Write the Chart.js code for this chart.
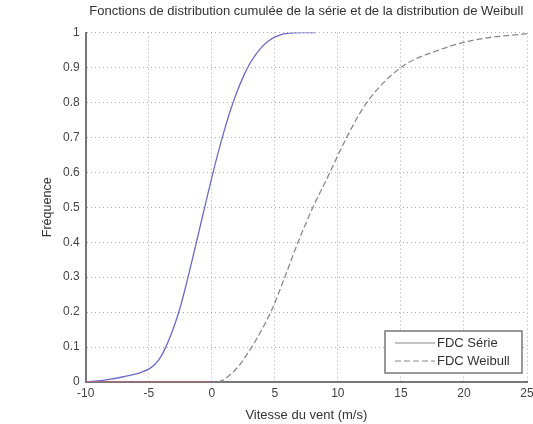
<!DOCTYPE html>
<html>
<head>
<meta charset="utf-8">
<script src="https://cdn.jsdelivr.net/npm/chart.js@4"></script>
<style>
html,body{margin:0;padding:0;background:#fff;}
#wrap{width:533px;height:424px;}
</style>
</head>
<body>
<div id="wrap"><canvas id="c" width="533" height="424"></canvas></div>
<script>
const serieX = [-10, -9, -8, -7, -6, -5.5, -5, -4.5, -4, -3.5, -3, -2.5, -2, -1.5, -1, -0.5, 0, 0.5, 1, 1.5, 2, 2.5, 3, 3.5, 4, 4.5, 5, 5.5, 6, 7, 8.2];
const serieY = [0, 0.003, 0.008, 0.015, 0.023, 0.029, 0.037, 0.051, 0.075, 0.112, 0.158, 0.214, 0.283, 0.357, 0.433, 0.51, 0.585, 0.656, 0.721, 0.78, 0.831, 0.874, 0.91, 0.938, 0.96, 0.976, 0.987, 0.994, 0.998, 1.0, 1.0];
const weibullX = [0.52, 1, 2, 2.63, 3.5, 4.73, 5.79, 6.84, 8.02, 9.2, 10.7, 12.3, 15, 18, 21, 25];
const weibullY = [0, 0.008, 0.04, 0.07, 0.12, 0.204, 0.30, 0.40, 0.50, 0.587, 0.7, 0.8, 0.9, 0.95, 0.98, 0.997];
const zeroX = [-10, 0];
const zeroY = [0, 0];
const seriesLabels = ["FDC Série", "FDC Weibull"];
const xTicks = [-10, -5, 0, 5, 10, 15, 20, 25];
const yTicks = [0, 0.1, 0.2, 0.3, 0.4, 0.5, 0.6, 0.7, 0.8, 0.9, 1];
const titleText = "Fonctions de distribution cumulée de la série et de la distribution de Weibull";
const xTitle = "Vitesse du vent (m/s)";
const yTitle = "Fréquence";

const FONT = '"Liberation Sans", Arial, sans-serif';
const pts = (xs, ys) => xs.map((x, i) => ({x: x, y: ys[i]}));

const legendPlugin = {
  id: 'boxLegend',
  afterDatasetsDraw(chart) {
    const ctx = chart.ctx, a = chart.chartArea;
    const w = 137, h = 42;
    const x0 = a.right - 142, y0 = a.bottom - 51;
    ctx.save();
    ctx.fillStyle = '#fff';
    ctx.fillRect(x0, y0, w, h);
    ctx.strokeStyle = '#777';
    ctx.lineWidth = 1.5;
    ctx.strokeRect(x0, y0, w, h);
    ctx.font = '13px ' + FONT;
    ctx.textBaseline = 'middle';
    ctx.fillStyle = '#333';
    for (let i = 0; i < 2; i++) {
      const ds = chart.data.datasets[i];
      const yy = y0 + 12 + i * 18;
      ctx.beginPath();
      ctx.setLineDash(ds.borderDash || []);
      ctx.strokeStyle = '#888';
      ctx.lineWidth = 1;
      ctx.moveTo(x0 + 10, yy);
      ctx.lineTo(x0 + 50, yy);
      ctx.stroke();
      ctx.setLineDash([]);
      ctx.fillText(seriesLabels[i], x0 + 52, yy);
    }
    ctx.restore();
  }
};

new Chart(document.getElementById('c'), {
  type: 'line',
  data: {
    datasets: [
      {label: seriesLabels[0], data: pts(serieX, serieY), borderColor: '#6b6bc8', borderWidth: 1.3, pointRadius: 0, cubicInterpolationMode: 'monotone', order: 2},
      {label: seriesLabels[1], data: pts(weibullX, weibullY), borderColor: '#8a8a8a', borderWidth: 1.3, borderDash: [6, 3], pointRadius: 0, cubicInterpolationMode: 'monotone', order: 3},
      {label: '', data: pts(zeroX, zeroY), borderColor: '#c0607a', borderWidth: 1.3, pointRadius: 0, order: 1}
    ]
  },
  options: {
    responsive: false,
    animation: false,
    layout: {padding: {left: 40, right: 6, top: 0, bottom: 1}},
    plugins: {
      legend: {display: false},
      tooltip: {enabled: false},
      title: {
        display: true, text: titleText, fullSize: false,
        color: '#333', font: {family: FONT, size: 13, weight: 'normal'},
        padding: {top: 4, bottom: 13}
      }
    },
    scales: {
      x: {
        type: 'linear', min: -10, max: 25,
        afterBuildTicks: s => { s.ticks = xTicks.map(v => ({value: v})); },
        afterFit: s => { s.paddingRight = 0; },
        ticks: {color: '#444', font: {family: FONT, size: 12}, padding: 4, maxRotation: 0},
        grid: {color: '#aaa', lineWidth: 1, drawTicks: false},
        border: {display: true, color: '#777', width: 2, dash: [1, 3]},
        title: {display: true, text: xTitle, color: '#333', font: {family: FONT, size: 13}, padding: {top: 3, bottom: 0}}
      },
      y: {
        min: 0, max: 1,
        afterBuildTicks: s => { s.ticks = yTicks.map(v => ({value: v})); },
        ticks: {color: '#444', font: {family: FONT, size: 12}, padding: 6,
                callback: v => String(Math.round(v * 10) / 10)},
        grid: {color: '#aaa', lineWidth: 1, drawTicks: false},
        border: {display: true, color: '#777', width: 2, dash: [1, 3]},
        title: {display: true, text: yTitle, color: '#333', font: {family: FONT, size: 12.5}, padding: {top: 0, bottom: 2}}
      }
    }
  },
  plugins: [legendPlugin]
});
</script>
</body>
</html>
